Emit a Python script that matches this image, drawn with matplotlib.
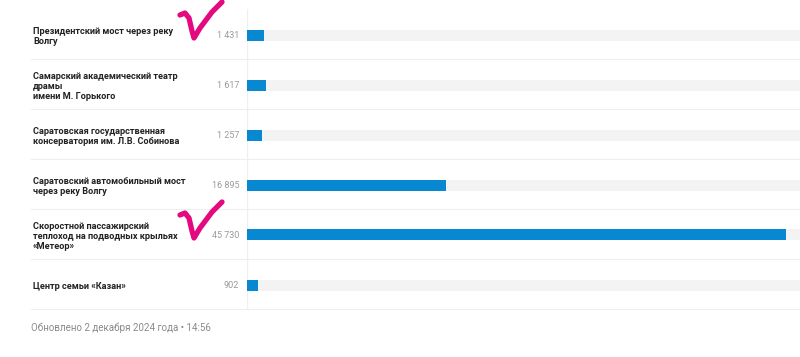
import matplotlib
matplotlib.use("Agg")
import matplotlib.pyplot as plt
from matplotlib.lines import Line2D
from matplotlib.transforms import blended_transform_factory

# Data
labels = [
    "Президентский мост через реку\nВолгу",
    "Самарский академический театр\nдрамы\nимени М. Горького",
    "Саратовская государственная\nконсерватория им. Л.В. Собинова",
    "Саратовский автомобильный мост\nчерез реку Волгу",
    "Скоростной пассажирский\nтеплоход на подводных крыльях\n«Метеор»",
    "Центр семьи «Казан»",
]
values = [1431, 1617, 1257, 16895, 45730, 902]
checked = [0, 4]  # rows marked with a pink tick
footer = "Обновлено 2 декабря 2024 года • 14:56"

W, H = 800, 357
plt.rcParams['font.family'] = ['Roboto', 'DejaVu Sans']

fig = plt.figure(figsize=(W / 100, H / 100), dpi=100)
fig.patch.set_facecolor('white')

# bar area: x 247..800 px, y 9..309 px
ax = fig.add_axes([247 / W, (H - 309) / H, (W - 247) / W, 300 / H])
n = len(values)
xmax = 46900
ax.set_xlim(0, xmax)
ax.set_ylim(n - 0.5, -0.5)
ax.axis('off')

ys = list(range(n))
ax.barh([y + 0.02 for y in ys], [xmax] * n, height=0.22, color='#f3f3f3', zorder=1)
ax.barh([y + 0.02 for y in ys], values, height=0.22, color='#0788d0', zorder=2)
ax.axvline(0, color='#efefef', linewidth=1, zorder=0)

tr = blended_transform_factory(fig.transFigure, ax.transData)
for y, lab, v in zip(ys, labels, values):
    ax.text(33 / W, y + 0.05, lab, transform=tr, ha='left', va='center',
            fontsize=6.6, fontweight='bold', color='#222222', linespacing=1.15)
    ax.text(239 / W, y + 0.04, f"{v:,}".replace(",", " "), transform=tr,
            ha='right', va='center', fontsize=6.5, color='#9a9a9a')
    ax.add_line(Line2D([31 / W, 1], [y + 0.5, y + 0.5], transform=tr,
                       color='#eeeeee', linewidth=0.8, clip_on=False))

# hand-drawn pink ticks, offsets in pixels from the row centre
tick_dx = [180, 185, 189, 192, 194, 200, 212, 222]
tick_dy = [-19, -21, -16, -3, 4, -6, -22, -32]
for r in checked:
    cy = 9 + 50 * r + 25
    fig.add_artist(Line2D([x / W for x in tick_dx],
                          [1 - (cy + d) / H for d in tick_dy],
                          transform=fig.transFigure, color='#e5097f',
                          linewidth=3.8, solid_capstyle='round',
                          solid_joinstyle='round'))

fig.text(31 / W, 1 - 328 / H, footer, ha='left', va='center',
         fontsize=7, color='#8a8a8a')

fig.savefig('out.png', dpi=100)
